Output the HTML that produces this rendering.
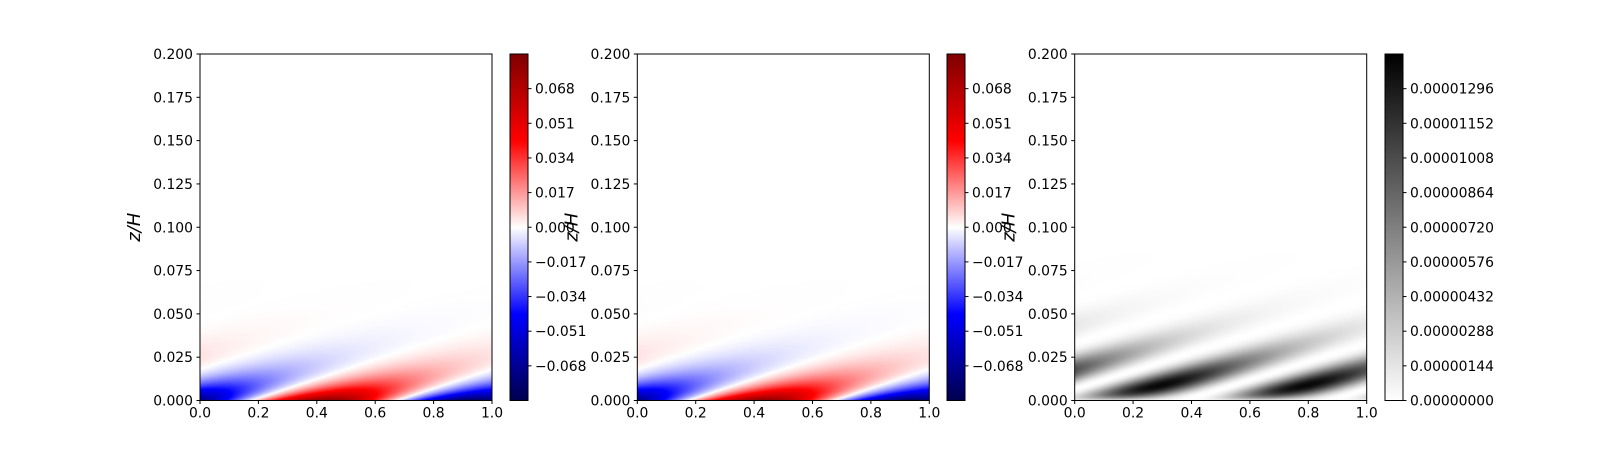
<!DOCTYPE html>
<html><head><meta charset="utf-8"><style>
html,body{margin:0;padding:0;background:#fff;}
#fig{position:relative;width:1600px;height:450px;overflow:hidden;background:#fff;}
canvas{position:absolute;}
svg{position:absolute;left:0;top:0;}
</style></head><body>
<div id="fig">
<svg id="ov" width="1600" height="450" font-family="DejaVu Sans, Liberation Sans, sans-serif"></svg>
</div>
<script>
// ---- data ----
const xTicks = [0.0, 0.2, 0.4, 0.6, 0.8, 1.0];
const xTickLabels = ["0.0","0.2","0.4","0.6","0.8","1.0"];
const zTicks = [0, 0.025, 0.05, 0.075, 0.1, 0.125, 0.15, 0.175, 0.2];
const zTickLabels = ["0.000","0.025","0.050","0.075","0.100","0.125","0.150","0.175","0.200"];
const uTicks = [-0.068, -0.051, -0.034, -0.017, 0, 0.017, 0.034, 0.051, 0.068];
const uTickLabels = ["\u22120.068","\u22120.051","\u22120.034","\u22120.017","0.000","0.017","0.034","0.051","0.068"];
const uRange = [-0.085, 0.085];
const eTicks = [0, 0.00000144, 0.00000288, 0.00000432, 0.00000576, 0.0000072, 0.00000864, 0.00001008, 0.00001152, 0.00001296];
const eTickLabels = ["0.00000000","0.00000144","0.00000288","0.00000432","0.00000576","0.00000720","0.00000864","0.00001008","0.00001152","0.00001296"];
const eRange = [0, 0.0000144];
// wave-field parameters: [amplitude, decay depth, x phase, phase tilt dx/dz]
const uField = [0.084, 0.010, 0.42, 18];
const eField = [0.0000140, 0.009, -0.13, 19];

// ---- layout ----
const TOP = 54, BOT = 400.5, W = 292;
const panels = [
  {x0:200, cb:510, type:'u', name:'panel-1'},
  {x0:637.3, cb:947, type:'u', name:'panel-2'},
  {x0:1074.7, cb:1385, type:'e', name:'panel-3'}
];
const CBW = 18;
const H = BOT - TOP;
const fig = document.getElementById('fig');
const svg = document.getElementById('ov');
const NS = 'http://www.w3.org/2000/svg';

function seismic(t){
  t=Math.max(0,Math.min(1,t));
  let r,g,b;
  if(t<0.25){const s=t/0.25;r=0;g=0;b=0.3+0.7*s;}
  else if(t<0.5){const s=(t-0.25)/0.25;r=s;g=s;b=1;}
  else if(t<0.75){const s=(t-0.5)/0.25;r=1;g=1-s;b=1-s;}
  else {const s=(t-0.75)/0.25;r=1-0.5*s;g=0;b=0;}
  return [r*255,g*255,b*255];
}
function grayR(t){t=Math.max(0,Math.min(1,t));const v=255*(1-t);return [v,v,v];}

function uVal(x,z){
  const [A,d,p,c]=uField;
  return A*Math.exp(-z/d)*Math.cos(2*Math.PI*(x-p-c*z));
}
function eVal(x,z){
  const [B,z0,p,c]=eField;
  const s=Math.sin(2*Math.PI*(x-p-c*z));
  return B*(z/z0)*Math.exp(1-z/z0)*s*s;
}
const sx=(p,x)=>p.x0+x*W;
const sz=z=>BOT-(z/0.2)*H;

function mk(tag,attrs,parent){const e=document.createElementNS(NS,tag);for(const k in attrs)e.setAttribute(k,attrs[k]);(parent||svg).appendChild(e);return e;}

panels.forEach((p,pi)=>{
  const cv=document.createElement('canvas');
  
  
  const cw=Math.round(W), ch=Math.round(H);
  cv.width=cw; cv.height=ch;
  cv.style.left=p.x0+'px'; cv.style.top=TOP+'px'; cv.style.width=W+'px'; cv.style.height=H+'px';
  const ctx=cv.getContext('2d'); const im=ctx.createImageData(cw,ch);
  const rng = p.type==='u'?uRange:eRange;
  for(let j=0;j<ch;j++){const z=0.2*(1-(j+0.5)/ch);
    for(let i=0;i<cw;i++){const x=(i+0.5)/cw;
      const v=p.type==='u'?uVal(x,z):eVal(x,z);
      const t=(v-rng[0])/(rng[1]-rng[0]);
      const c=p.type==='u'?seismic(t):grayR(t);
      const k=4*(j*cw+i);im.data[k]=c[0];im.data[k+1]=c[1];im.data[k+2]=c[2];im.data[k+3]=255;}}
  ctx.putImageData(im,0,0);
  fig.insertBefore(cv,svg);
  const cb=document.createElement('canvas');
  
  
  cb.width=1; cb.height=ch;
  cb.style.left=p.cb+'px'; cb.style.top=TOP+'px'; cb.style.width=CBW+'px'; cb.style.height=H+'px';
  const c2=cb.getContext('2d'); const im2=c2.createImageData(1,ch);
  for(let j=0;j<ch;j++){const t=1-(j+0.5)/ch;const c=p.type==='u'?seismic(t):grayR(t);
    im2.data[4*j]=c[0];im2.data[4*j+1]=c[1];im2.data[4*j+2]=c[2];im2.data[4*j+3]=255;}
  c2.putImageData(im2,0,0);
  fig.insertBefore(cb,svg);

  const g=mk('g',{});
  
  
  mk('rect',{x:p.x0,y:TOP,width:W,height:H,fill:'none',stroke:'#000','stroke-width':1},g);
  xTicks.forEach((v,i)=>{const X=sx(p,v);
    mk('line',{x1:X,x2:X,y1:BOT,y2:BOT+3.5,stroke:'#000'},g);
    const t=mk('text',{x:X,y:BOT+17,'font-size':'13.9px','text-anchor':'middle'},g);t.textContent=xTickLabels[i];
    
    
  });
  zTicks.forEach((v,i)=>{const Y=sz(v);
    mk('line',{x1:p.x0-3.5,x2:p.x0,y1:Y,y2:Y,stroke:'#000'},g);
    const t=mk('text',{x:p.x0-7,y:Y+5,'font-size':'13.9px','text-anchor':'end'},g);t.textContent=zTickLabels[i];
    
    
  });
  const yl=mk('text',{x:0,y:0,'font-size':'18px','font-style':'italic','text-anchor':'middle',transform:`translate(${p.x0-60},${(TOP+BOT)/2}) rotate(-90)`},g);
  yl.textContent='z/H';
  
  
  mk('rect',{x:p.cb,y:TOP,width:CBW,height:H,fill:'none',stroke:'#000','stroke-width':1},g);
  const ticks=p.type==='u'?uTicks:eTicks, labs=p.type==='u'?uTickLabels:eTickLabels;
  ticks.forEach((v,i)=>{const Y=BOT-(v-rng[0])/(rng[1]-rng[0])*H;
    mk('line',{x1:p.cb+CBW,x2:p.cb+CBW+3.5,y1:Y,y2:Y,stroke:'#000'},g);
    const t=mk('text',{x:p.cb+CBW+7,y:Y+5,'font-size':'13.9px'},g);t.textContent=labs[i];
    
    
  });
});
</script>
</body></html>
